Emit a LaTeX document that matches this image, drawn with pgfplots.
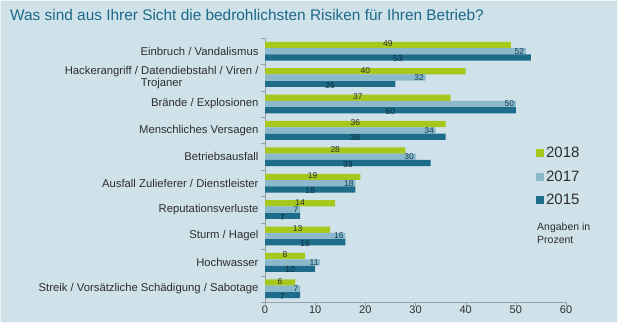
\documentclass[border=0pt]{standalone}
\usepackage{pgfplots}
\pgfplotsset{compat=1.18}
\usepackage{fontspec}
\setmainfont{Liberation Sans}
\definecolor{bg}{RGB}{207,226,233}
\definecolor{cA}{RGB}{166,199,28}
\definecolor{cB}{RGB}{140,184,204}
\definecolor{cC}{RGB}{28,108,138}
\definecolor{ttl}{RGB}{28,104,136}
\definecolor{axg}{RGB}{150,160,165}
\definecolor{txt}{RGB}{45,45,45}
\begin{document}
\begin{tikzpicture}
\path[use as bounding box] (0,0) rectangle (618pt,323pt);
\fill[bg] (0,0) rectangle (618pt,323pt);
\draw[white!70!bg, line width=1pt] (0.5pt,0.5pt) rectangle (617.5pt,322.5pt);
\node[anchor=base west, font=\fontsize{15.4}{17}\selectfont, text=ttl, inner sep=0pt] at (10pt,302pt) {Was sind aus Ihrer Sicht die bedrohlichsten Risiken für Ihren Betrieb?};
\begin{axis}[
  at={(265pt,21pt)}, anchor=south west,
  scale only axis, width=301pt, height=264pt,
  xbar, bar width=6.2pt,
  y dir=reverse,
  xmin=0, xmax=60, ymin=-0.5, ymax=9.5,
  xtick={0,10,...,60},
  ytick={0,...,9},
  yticklabels={Einbruch / Vandalismus, {Hackerangriff / Datendiebstahl / Viren /\\Trojaner}, Brände / Explosionen, Menschliches Versagen, Betriebsausfall, Ausfall Zulieferer / Dienstleister, Reputationsverluste, Sturm / Hagel, Hochwasser, Streik / Vorsätzliche Schädigung / Sabotage},
  yticklabel style={align=center, font=\fontsize{11.3}{12.5}\selectfont, text=txt, xshift=-3pt},
  xticklabel style={font=\fontsize{11}{12}\selectfont, text=txt},
  /pgf/number format/assume math mode=true,
  axis x line*=bottom, axis y line*=left,
  axis line style={axg, -},
  major tick length=0pt,
  extra y ticks={-0.5,0.5,...,9.5}, extra y tick labels={},
  extra y tick style={major tick length=4pt, tick align=outside, tick style={axg}},
  extra x ticks={0,10,...,60}, extra x tick labels={},
  extra x tick style={major tick length=4pt, tick align=outside, tick style={axg}},
  legend style={at={(0.9,0.595)}, anchor=north west, draw=none, fill=none, font=\fontsize{15}{17}\selectfont, text=txt, row sep=7.5pt, inner sep=0pt},
  legend cell align=left,
  legend image code/.code={\fill[#1] (0pt,-4pt) rectangle (8pt,4pt);},
  visualization depends on={rawx \as \rawx},
  nodes near coords,
  every node near coord/.append style={font=\fontsize{8.5}{9.5}\selectfont, inner sep=0pt},
]
\addplot[draw=none, fill=cA, bar shift=6.3pt,
  nodes near coords style={anchor=center, xshift={-2.508*\rawx}, yshift=1.2pt, text=txt}]
  coordinates {(49,0) (40,1) (37,2) (36,3) (28,4) (19,5) (14,6) (13,7) (8,8) (6,9)};
\addlegendentry{2018}
\addplot[draw=none, fill=cB, bar shift=0pt,
  nodes near coords style={anchor=east, xshift=-1.5pt, text=cC!60!black}]
  coordinates {(52,0) (32,1) (50,2) (34,3) (30,4) (18,5) (7,6) (16,7) (11,8) (7,9)};
\addlegendentry{2017}
\addplot[draw=none, fill=cC, bar shift=-6.3pt,
  nodes near coords style={anchor=center, xshift={-2.508*\rawx}, yshift=-1.2pt, text=cC!40!black}]
  coordinates {(53,0) (26,1) (50,2) (36,3) (33,4) (18,5) (7,6) (16,7) (10,8) (7,9)};
\addlegendentry{2015}
\end{axis}
\node[anchor=north west, align=left, font=\fontsize{10.5}{13}\selectfont, text=txt, inner sep=0pt] at (537pt,100pt) {Angaben in\\Prozent};
\end{tikzpicture}
\end{document}
